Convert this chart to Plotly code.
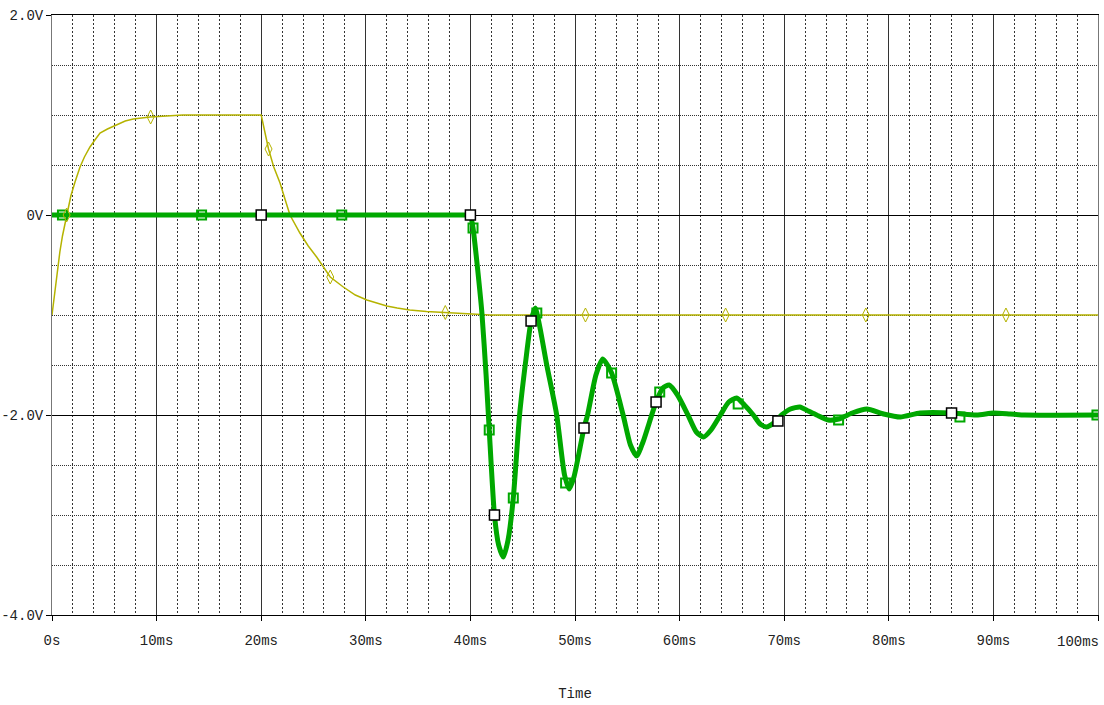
import plotly.graph_objects as go

# ---- data ----
# yellow trace (V)
t_y = [0, 0.25, 0.5, 0.75, 1.0, 1.4, 1.8, 2.2, 2.68, 3.1, 3.63, 4.1, 4.59, 5.3, 6.2, 7.0, 7.77,
       8.5, 9.37, 10.96, 12.5, 20.0,
       20.35, 20.7, 21.2, 21.8, 22.3, 22.75, 23.7, 24.5, 25.3, 26.0, 26.6, 27.85, 29.0, 30.1,
       31.0, 32.0, 33.0, 34.2, 35.8, 37.6, 39.5, 41.9, 100]
v_y = [-1.0, -0.77, -0.56, -0.37, -0.21, 0.0, 0.19, 0.33, 0.48, 0.58, 0.68, 0.75, 0.82, 0.86,
       0.90, 0.94, 0.96, 0.97, 0.98, 0.99, 1.0, 1.0,
       0.83, 0.66, 0.48, 0.32, 0.15, 0.0, -0.18, -0.31, -0.42, -0.53, -0.62, -0.72, -0.80, -0.85,
       -0.88, -0.91, -0.93, -0.95, -0.965, -0.975, -0.99, -1.0, -1.0]
t_y_mark = [1.4, 9.43, 20.7, 26.6, 37.6, 51.0, 64.4, 77.8, 91.2]
v_y_mark = [0.0, 0.98, 0.66, -0.62, -0.975, -1.0, -1.0, -1.0, -1.0]

# green trace (V)
t_g = [0, 20, 39.9, 40.0, 40.25, 40.7, 41.1, 41.5, 41.8, 42.3, 42.7, 43.15, 43.6, 44.1, 44.7,
       45.3, 45.8, 46.2, 46.6, 47.3, 48.25, 49.0, 49.45, 49.9, 50.86, 51.2, 52.0, 52.65, 53.5,
       54.6, 55.3, 55.9, 56.5, 57.75, 58.4, 59.0, 59.8, 60.8, 61.6, 62.3, 63.0, 63.9, 64.7,
       65.45, 66.2, 67.05, 67.7, 68.3, 69.0, 69.75, 70.6, 71.5, 72.3, 73.1, 74.2, 75.2, 76.5,
       77.9, 79.5, 81.1, 83.0, 86.0, 88.4, 90.0, 91.6, 93.0, 100]
v_g = [0, 0, 0, 0, -0.13, -0.55, -0.98, -1.6, -2.15, -3.0, -3.3, -3.42, -3.25, -2.83, -2.0,
       -1.45, -1.06, -0.93, -1.1, -1.5, -2.0, -2.6, -2.74, -2.62, -2.13, -2.0, -1.6, -1.44, -1.58,
       -2.0, -2.3, -2.41, -2.27, -1.87, -1.73, -1.70, -1.8, -2.0, -2.17, -2.22, -2.15, -2.0, -1.87,
       -1.83, -1.9, -2.0, -2.09, -2.12, -2.08, -2.0, -1.94, -1.92, -1.96, -2.0, -2.05, -2.04, -1.98,
       -1.94, -1.99, -2.02, -1.98, -1.98, -2.0, -1.98, -1.99, -2.0, -2.0]
t_g_mark = [1.0, 14.3, 27.7, 40.25, 41.8, 44.1, 46.35, 49.1, 53.5, 58.1, 65.6, 75.2, 86.8, 99.9]
v_g_mark = [0, 0, 0, -0.13, -2.15, -2.83, -0.98, -2.68, -1.58, -1.77, -1.89, -2.05, -2.02, -2.0]
t_w_mark = [20, 40, 42.3, 45.8, 50.86, 57.75, 69.4, 86.0]
v_w_mark = [0, 0, -3.0, -1.06, -2.13, -1.87, -2.06, -1.98]

x_ticks = [0, 10, 20, 30, 40, 50, 60, 70, 80, 90, 100]
x_labels = ["0s", "10ms", "20ms", "30ms", "40ms", "50ms", "60ms", "70ms", "80ms", "90ms", ""]
y_ticks = [2, 0, -2, -4]
y_labels = ["2.0V", "0V", "-2.0V", "-4.0V"]

YELLOW = "#b5b300"
GREEN = "#00a800"
FONT = "Liberation Mono"

fig = go.Figure()
fig.add_trace(go.Scatter(x=t_y, y=v_y, mode="lines",
                         line=dict(color=YELLOW, width=1.5),
                         hoverinfo="skip", showlegend=False))
fig.add_trace(go.Scatter(x=t_g, y=v_g, mode="lines",
                         line=dict(color=GREEN, width=5, shape="spline", smoothing=0.6),
                         hoverinfo="skip", showlegend=False))
fig.add_trace(go.Scatter(x=t_g_mark, y=v_g_mark, mode="markers",
                         marker=dict(symbol="square-open", size=9, color=GREEN,
                                     line=dict(color=GREEN, width=2)),
                         hoverinfo="skip", showlegend=False))
fig.add_trace(go.Scatter(x=t_w_mark, y=v_w_mark, mode="markers",
                         marker=dict(symbol="square", size=10, color="white",
                                     line=dict(color="black", width=1.5)),
                         hoverinfo="skip", showlegend=False))
fig.add_trace(go.Scatter(x=t_y_mark, y=v_y_mark, mode="markers",
                         marker=dict(symbol="diamond-tall-open", size=10, color=YELLOW,
                                     line=dict(color=YELLOW, width=1)),
                         hoverinfo="skip", showlegend=False))

fig.add_annotation(x=100, xref="x", y=0, yref="paper", text="100ms", showarrow=False,
                   xanchor="right", yanchor="top", yshift=-17, xshift=3,
                   font=dict(family=FONT, size=14, color="#222"))

fig.update_layout(
    width=1104, height=705,
    margin=dict(l=52, r=6, t=15, b=90),
    paper_bgcolor="white", plot_bgcolor="white",
    font=dict(family=FONT, size=14, color="#222"),
    showlegend=False,
)
fig.update_xaxes(
    range=[0, 100], tickvals=x_ticks, ticktext=x_labels,
    showgrid=True, gridcolor="#333", gridwidth=1,
    minor=dict(dtick=2, tick0=0, showgrid=True, gridcolor="#333", griddash="2px,2px", gridwidth=1),
    zeroline=False,
    showline=True, mirror=True, linecolor="black", linewidth=1,
    ticks="outside", ticklen=5, tickcolor="black",
    ticklabelstandoff=7, ticklabeloverflow="allow",
    title=dict(text="Time", standoff=40, font=dict(family=FONT, size=14, color="#222")),
    automargin=False,
)
fig.update_yaxes(
    range=[-4, 2], tickvals=y_ticks, ticktext=y_labels,
    showgrid=True, gridcolor="black", gridwidth=1,
    minor=dict(dtick=0.5, tick0=0, showgrid=True, gridcolor="#333", griddash="1px,1px", gridwidth=1),
    zeroline=True, zerolinecolor="black", zerolinewidth=1,
    showline=True, mirror=True, linecolor="#777", linewidth=1,
    ticks="outside", ticklen=5, tickcolor="black",
    ticklabeloverflow="allow",
    automargin=False,
)

fig.write_html("out.html", config={"displayModeBar": False},
               post_script="document.body.style.margin='0';")
